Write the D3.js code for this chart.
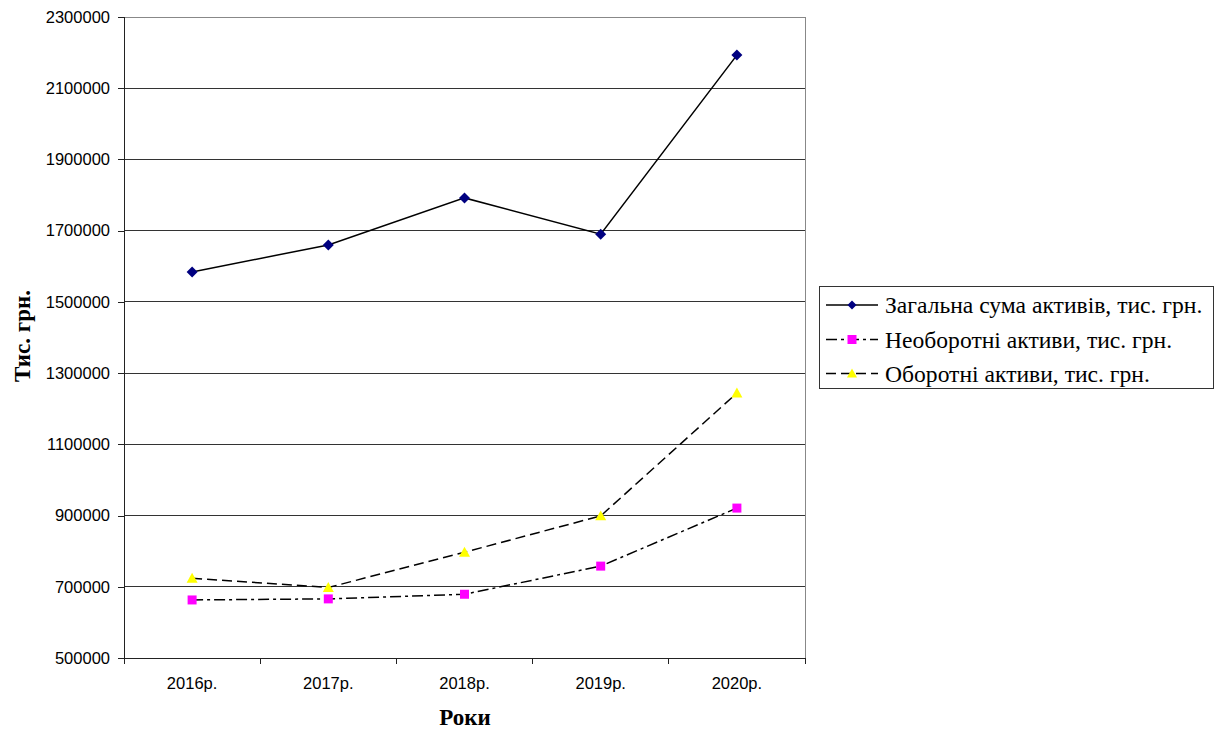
<!DOCTYPE html>
<html>
<head>
<meta charset="utf-8">
<script src="https://cdn.jsdelivr.net/npm/d3@7"></script>
<style>
  html, body { margin: 0; padding: 0; background: #fff; }
  svg { display: block; }
</style>
</head>
<body>
<svg id="chart" width="1223" height="729"></svg>
<script>
// Years on the category axis
const years = ["2016р.", "2017р.", "2018р.", "2019р.", "2020р."];

// Asset values, thousand UAH
const totalAssets      = [1584000, 1660000, 1792000, 1690000, 2193000];
const nonCurrentAssets = [663000, 666000, 679000, 758000, 921000];
const currentAssets    = [724000, 698000, 797000, 899000, 1244000];

// Value axis ticks
const yTicks = [500000, 700000, 900000, 1100000, 1300000, 1500000, 1700000, 1900000, 2100000, 2300000];

const seriesNames = [
  "Загальна сума активів, тис. грн.",
  "Необоротні активи, тис. грн.",
  "Оборотні активи, тис. грн."
];

const series = [
  { name: seriesNames[0], values: totalAssets, dash: null, marker: "diamond", fill: "#000080" },
  { name: seriesNames[1], values: nonCurrentAssets, dash: "11,4,3,4", marker: "square", fill: "#FF00FF" },
  { name: seriesNames[2], values: currentAssets, dash: "10,5", marker: "triangle", fill: "#FFFF00" }
];

const svg = d3.select("#chart");
const plot = { left: 124, right: 805, top: 17, bottom: 658 };

const x = d3.scaleBand().domain(years).range([plot.left, plot.right]).padding(0);
const y = d3.scaleLinear().domain([500000, 2300000]).range([plot.bottom, plot.top]);

const sansFont = "Liberation Sans, Arial, sans-serif";
const serifFont = "Liberation Serif, Times New Roman, serif";

// Horizontal gridlines
svg.append("g")
  .selectAll("line")
  .data(yTicks.slice(1))
  .join("line")
  .attr("x1", plot.left).attr("x2", plot.right)
  .attr("y1", d => y(d)).attr("y2", d => y(d))
  .attr("stroke", d => d === 2300000 ? "#888" : "#333")
  .attr("stroke-width", 1)
  .attr("shape-rendering", "crispEdges");

// Right plot border
svg.append("line")
  .attr("x1", plot.right).attr("x2", plot.right)
  .attr("y1", plot.top).attr("y2", plot.bottom)
  .attr("stroke", "#888").attr("shape-rendering", "crispEdges");

// Y axis
const yAxis = d3.axisLeft(y).tickValues(yTicks).tickSize(6).tickPadding(8).tickFormat(d3.format("d"));
const gy = svg.append("g").attr("transform", `translate(${plot.left},0)`).call(yAxis);
gy.select(".domain").attr("stroke", "#222").attr("shape-rendering", "crispEdges");
gy.selectAll(".tick line").attr("stroke", "#222").attr("shape-rendering", "crispEdges");
gy.selectAll("text").attr("font-family", sansFont).attr("font-size", 16.5).attr("fill", "#000");

// X axis with ticks on category boundaries
const gx = svg.append("g").attr("transform", `translate(0,${plot.bottom})`);
gx.append("line")
  .attr("x1", plot.left).attr("x2", plot.right)
  .attr("stroke", "#222").attr("shape-rendering", "crispEdges");
const boundaries = years.map(d => x(d)).concat([x(years[years.length - 1]) + x.bandwidth()]);
gx.selectAll("line.tick")
  .data(boundaries)
  .join("line")
  .attr("class", "tick")
  .attr("x1", d => d).attr("x2", d => d)
  .attr("y1", 0).attr("y2", 6)
  .attr("stroke", "#222").attr("shape-rendering", "crispEdges");
gx.selectAll("text")
  .data(years)
  .join("text")
  .attr("x", d => x(d) + x.bandwidth() / 2)
  .attr("y", 31)
  .attr("text-anchor", "middle")
  .attr("font-family", sansFont)
  .attr("font-size", 16.5)
  .text(d => d);

// Axis titles
svg.append("text")
  .attr("x", 465).attr("y", 725)
  .attr("text-anchor", "middle")
  .attr("font-family", serifFont)
  .attr("font-weight", "bold").attr("font-size", 23)
  .text("Роки");

svg.append("text")
  .attr("transform", "translate(30,336) rotate(-90)")
  .attr("text-anchor", "middle")
  .attr("font-family", serifFont)
  .attr("font-weight", "bold").attr("font-size", 23)
  .text("Тис. грн.");

// Marker shapes
const diamond = r => `M0,${-r}L${r},0L0,${r}L${-r},0Z`;
const square = r => `M${-r},${-r}H${r}V${r}H${-r}Z`;
const triangle = r => `M0,${-r}L${r},${r * 0.8}H${-r}Z`;
const markerPath = {
  diamond: diamond(5.5),
  square: square(4.5),
  triangle: triangle(5.5)
};
const legendMarkerPath = {
  diamond: diamond(4.5),
  square: square(4.5),
  triangle: triangle(5)
};

const cx = d => x(d) + x.bandwidth() / 2;
const line = d3.line().x(d => cx(d.year)).y(d => y(d.value));

series.forEach(s => {
  const pts = years.map((yr, i) => ({ year: yr, value: s.values[i] }));
  svg.append("path")
    .datum(pts)
    .attr("d", line)
    .attr("fill", "none")
    .attr("stroke", "#000")
    .attr("stroke-width", 1.5)
    .attr("stroke-dasharray", s.dash);
  svg.append("g")
    .selectAll("path")
    .data(pts)
    .join("path")
    .attr("transform", d => `translate(${cx(d.year)},${y(d.value)})`)
    .attr("d", markerPath[s.marker])
    .attr("fill", s.fill);
});

// Legend
const legend = svg.append("g");
legend.append("rect")
  .attr("x", 819.5).attr("y", 286.5)
  .attr("width", 394).attr("height", 102)
  .attr("fill", "#fff").attr("stroke", "#333");
const rowY = [305, 339.5, 373.5];
series.forEach((s, i) => {
  const g = legend.append("g").attr("transform", `translate(0,${rowY[i]})`);
  g.append("line")
    .attr("x1", 826).attr("x2", 878)
    .attr("stroke", "#000").attr("stroke-width", 1.5)
    .attr("stroke-dasharray", s.dash);
  g.append("path")
    .attr("transform", "translate(852,0)")
    .attr("d", legendMarkerPath[s.marker])
    .attr("fill", s.fill);
  g.append("text")
    .attr("x", 885).attr("y", 8)
    .attr("font-family", serifFont)
    .attr("font-size", 23.6)
    .text(s.name);
});
</script>
</body>
</html>
